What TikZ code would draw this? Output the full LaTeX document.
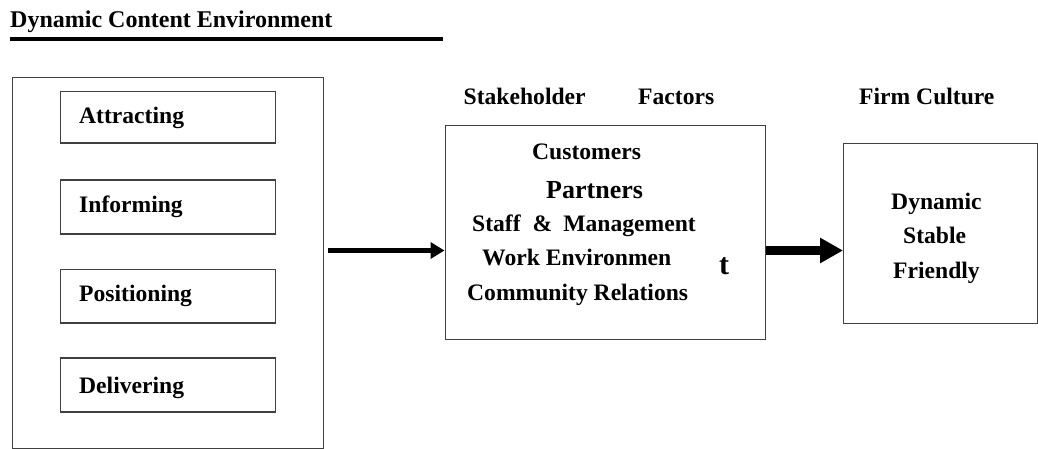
\documentclass[tikz,border=0pt]{standalone}
\usepackage{fontspec}
\setmainfont{Liberation Serif}
\usetikzlibrary{arrows.meta}

\begin{document}
\begin{tikzpicture}[x=1pt,y=-1pt,
  frame/.style={draw=black!75, line width=1.3pt, rectangle, inner sep=0pt, anchor=north west},
  lbl/.style={font=\fontsize{23.6}{28}\selectfont\bfseries, inner sep=0pt, anchor=base west},
  biglbl/.style={lbl, font=\fontsize{26}{30}\selectfont\bfseries},
  thinarrow/.style={line width=4.5pt, -{Triangle[length=14pt,width=16pt]}},
  thickarrow/.style={line width=9pt, -{Triangle[length=23pt,width=24pt]}}]
\useasboundingbox (0,0) rectangle (1038,449);

% heading with its rule
\node[lbl, font=\fontsize{24}{28}\selectfont\bfseries] (title) at (10,27.3) {Dynamic Content Environment};
\draw[line width=3.4pt] (10,39) -- (442.5,39);

% left panel: activities
\node[frame, minimum width=311pt, minimum height=371pt] (outer) at (11.5,77) {};
\node[frame, minimum width=215pt, minimum height=51.6pt] (b1) at (60,90.7) {};
\node[frame, minimum width=215pt, minimum height=54pt] (b2) at (60,179.3) {};
\node[frame, minimum width=215pt, minimum height=53.3pt] (b3) at (60,269) {};
\node[frame, minimum width=215pt, minimum height=54pt] (b4) at (60,357.3) {};
\node[lbl] (t1) at (79,123.3) {Attracting};
\node[lbl] (t2) at (79,212.7) {Informing};
\node[lbl] (t3) at (79,301.7) {Positioning};
\node[lbl] (t4) at (79,393.3) {Delivering};

% middle panel: stakeholder factors
\node[lbl] (sh) at (463.5,104.7) {Stakeholder};
\node[lbl] (fa) at (638,104.7) {Factors};
\node[frame, minimum width=320.5pt, minimum height=214pt] (mid) at (444.5,125) {};
\node[lbl] (c1) at (532,160) {Customers};
\node[biglbl] (c2) at (546,199) {Partners};
\node[lbl] (c3) at (472,231) {Staff\hspace{12pt}\&\hspace{11pt}Management};
\node[lbl] (c4) at (482,265) {Work Environmen};
\node[lbl, font=\fontsize{30}{34}\selectfont\bfseries] (c5) at (719,274) {t};
\node[lbl] (c6) at (467,300) {Community Relations};

% right panel: firm culture
\node[lbl] (fc) at (859,104.7) {Firm Culture};
\node[frame, minimum width=194pt, minimum height=179.5pt] (right) at (843,143) {};
\node[lbl] (r1) at (891,210) {Dynamic};
\node[lbl] (r2) at (903,243) {Stable};
\node[lbl] (r3) at (893,278) {Friendly};

% connectors
\coordinate (lvl) at (0,250.5);
\draw[thinarrow, shorten <=4pt] (outer.east |- lvl) -- (mid.west |- lvl);
\draw[thickarrow] (mid.east |- lvl) -- (right.west |- lvl);
\end{tikzpicture}
\end{document}
